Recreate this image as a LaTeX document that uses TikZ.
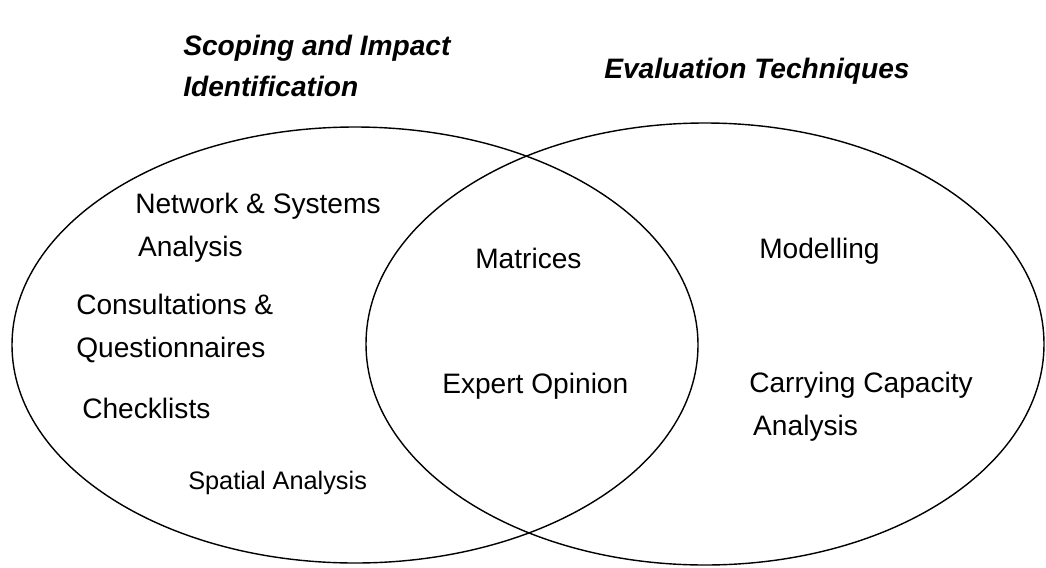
\documentclass[tikz,border=0pt]{standalone}
\usepackage{fontspec}
\setmainfont{Liberation Sans}
\usepackage{tikz}

\tikzset{
   item/.style={anchor=base west, inner sep=0pt, align=left, font=\fontsize{20}{30.5}\selectfont},
   small item/.style={item, font=\fontsize{18}{24}\selectfont},
   heading/.style={item, font=\fontsize{20}{28.5}\selectfont\bfseries\itshape},
   set/.style={line width=1pt}
}

\begin{document}
\begin{tikzpicture}[x=0.025cm, y=-0.025cm]
   \useasboundingbox (0,0) rectangle (1046,567);

   % the two sets
   \draw[set] (355,345) ellipse [x radius=343, y radius=218];
   \draw[set] (705,344) ellipse [x radius=339, y radius=221];

   % headings (two-line nodes sit on their lowest line)
   \node(scope)[heading] at (183,96) {Scoping and Impact\\Identification};
   \node(eval)[heading] at (604,78) {Evaluation Techniques};

   % scoping only
   \node(net)[item] at (135,256) {Network \& Systems\\\hspace*{5\pgflinewidth}Analysis};
   \node(cons)[item] at (76,357) {Consultations \&\\Questionnaires};
   \node(check)[item] at (82,418) {Checklists};
   \node(spat)[small item] at (188,489) {Spatial Analysis};

   % both
   \node(mat)[item] at (475,268) {Matrices};
   \node(expert)[item] at (442,393) {Expert Opinion};

   % evaluation only
   \node(model)[item] at (759,258) {Modelling};
   \node(carry)[item] at (749,435) {Carrying Capacity\\\hspace*{7\pgflinewidth}Analysis};
\end{tikzpicture}
\end{document}
